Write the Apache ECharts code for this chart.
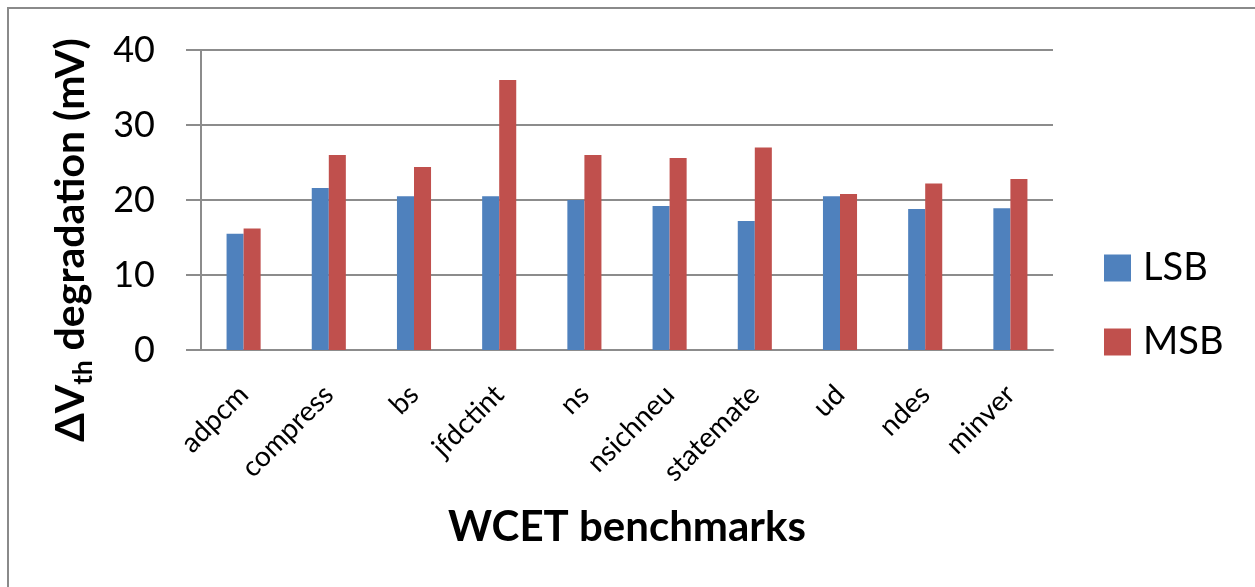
<!DOCTYPE html>
<html>
<head>
<meta charset="utf-8">
<script src="https://cdn.jsdelivr.net/npm/echarts@6/dist/echarts.min.js"></script>
<style>
html,body{margin:0;padding:0;background:#fff;}
#frame{position:absolute;left:7px;top:7px;width:1260px;height:600px;border-left:2px solid #8a8a8a;border-top:2px solid #8a8a8a;box-sizing:border-box;}
#chart{position:absolute;left:0;top:0;width:1255px;height:587px;}
</style>
</head>
<body>
<div id="frame"></div>
<div id="chart"></div>
<script>
const categories = ['adpcm','compress','bs','jfdctint','ns','nsichneu','statemate','ud','ndes','minver'];
const lsb = [15.5, 21.6, 20.5, 20.5, 20.0, 19.2, 17.2, 20.5, 18.8, 18.9];
const msb = [16.2, 26.0, 24.4, 36.0, 26.0, 25.6, 27.0, 20.8, 22.2, 22.8];
const yTicks = [0, 10, 20, 30, 40];

const FONT = 'Lato, "Noto Sans", sans-serif';
const chart = echarts.init(document.getElementById('chart'));
chart.setOption({
  animation: false,
  backgroundColor: 'transparent',
  grid: {left: 201, right: 202, top: 50, bottom: 237},
  legend: {
    orient: 'vertical', left: 1099, top: 244,
    itemWidth: 27, itemHeight: 27, itemGap: 36,
    icon: 'rect',
    textStyle: {fontFamily: FONT, fontSize: 38, color: '#000', padding: [0,0,0,7]},
    data: ['LSB','MSB']
  },
  xAxis: {
    type: 'category', data: categories,
    name: 'WCET benchmarks', nameLocation: 'middle', nameGap: 156,
    nameTextStyle: {fontFamily: FONT, fontSize: 42, fontWeight: 'bold', color: '#000'},
    axisLine: {lineStyle: {color: '#8c8c8c', width: 2}},
    axisTick: {show: false},
    axisLabel: {rotate: 45, margin: 40, fontFamily: FONT, fontSize: 28, color: '#000', interval: 0}
  },
  yAxis: {
    type: 'value', min: yTicks[0], max: yTicks[yTicks.length-1], interval: 10,
    axisLine: {show: true, lineStyle: {color: '#8c8c8c', width: 2}},
    axisTick: {show: true, inside: false, length: 15, lineStyle: {color: '#8c8c8c', width: 2}},
    splitLine: {lineStyle: {color: '#8c8c8c', width: 2}},
    axisLabel: {margin: 46, fontFamily: FONT, fontSize: 36, color: '#000'}
  },
  graphic: [{
    type: 'text', x: 71, y: 240, rotation: Math.PI/2,
    style: {
      text: '{a|ΔV}{b|th}{a| degradation (mV)}',
      align: 'center', verticalAlign: 'middle',
      rich: {
        a: {fontFamily: FONT, fontSize: 41, fontWeight: 'bold', fill: '#000', lineHeight: 52},
        b: {fontFamily: FONT, fontSize: 26, fontWeight: 'bold', fill: '#000', lineHeight: 27, verticalAlign: 'bottom'}
      }
    }
  }],
  series: [
    {name: 'LSB', type: 'bar', data: lsb, barWidth: '20%', barGap: '0%', itemStyle: {color: '#4F81BD'}},
    {name: 'MSB', type: 'bar', data: msb, barWidth: '20%', barGap: '0%', itemStyle: {color: '#C0504D'}}
  ]
});
</script>
</body>
</html>
